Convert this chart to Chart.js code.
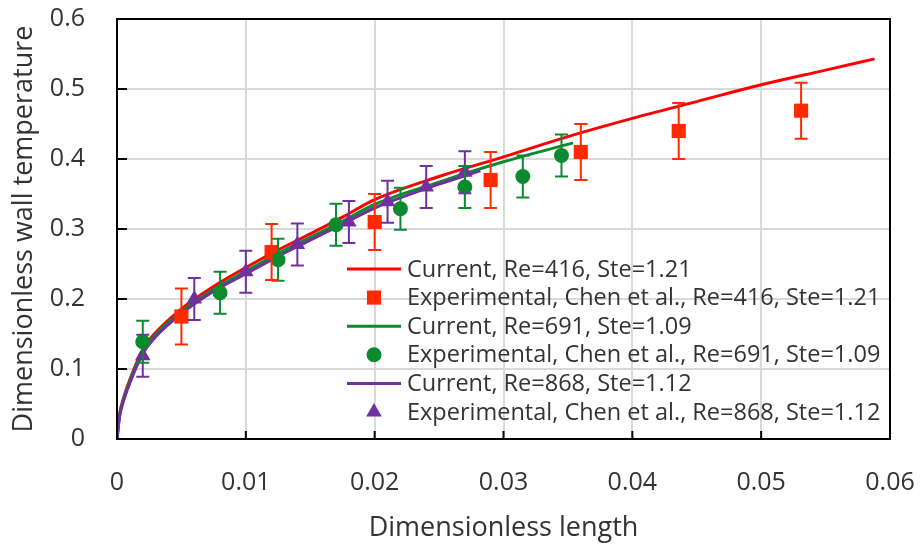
<!DOCTYPE html>
<html>
<head>
<meta charset="utf-8">
<script src="https://cdn.jsdelivr.net/npm/chart.js@4.4.1/dist/chart.umd.min.js"></script>
<style>
  html, body { margin: 0; padding: 0; background: #fff; }
  #wrap { width: 921px; height: 544px; }
</style>
</head>
<body>
<div id="wrap"><canvas id="chart"></canvas></div>
<script>
// ------------------ DATA ------------------
// simulated curves (Current)
const redLineX   = [0, 0.0002, 0.0005, 0.001, 0.002, 0.003, 0.005, 0.0075, 0.01, 0.0125, 0.015, 0.0175, 0.02, 0.025, 0.03, 0.035, 0.04, 0.045, 0.05, 0.055, 0.0588];
const redLineY   = [0, 0.035, 0.058, 0.085, 0.128, 0.152, 0.186, 0.218, 0.245, 0.27, 0.293, 0.317, 0.342, 0.375, 0.403, 0.432, 0.458, 0.482, 0.506, 0.527, 0.543];
const greenLineX = [0, 0.0002, 0.0005, 0.001, 0.002, 0.003, 0.005, 0.0075, 0.01, 0.0125, 0.015, 0.0175, 0.02, 0.025, 0.03, 0.0354];
const greenLineY = [0, 0.034, 0.056, 0.083, 0.125, 0.149, 0.182, 0.214, 0.24, 0.265, 0.288, 0.311, 0.335, 0.367, 0.396, 0.423];
const purpleLineX = [0, 0.0002, 0.0005, 0.001, 0.002, 0.003, 0.005, 0.0075, 0.01, 0.0125, 0.015, 0.0175, 0.02, 0.025, 0.0282];
const purpleLineY = [0, 0.032, 0.054, 0.08, 0.122, 0.146, 0.179, 0.211, 0.236, 0.261, 0.284, 0.307, 0.33, 0.364, 0.383];

// experimental points (Chen et al.) with error bar half-widths
const redExpX = [0.005, 0.012, 0.02, 0.029, 0.036, 0.0436, 0.0531];
const redExpY = [0.175, 0.267, 0.31, 0.37, 0.41, 0.44, 0.469];
const redExpErr = [0.04, 0.04, 0.04, 0.04, 0.04, 0.04, 0.04];
const greenExpX = [0.002, 0.008, 0.0125, 0.017, 0.022, 0.027, 0.0315, 0.0345];
const greenExpY = [0.139, 0.209, 0.256, 0.306, 0.329, 0.36, 0.375, 0.405];
const greenExpErr = [0.03, 0.03, 0.03, 0.03, 0.03, 0.03, 0.03, 0.03];
const purpleExpX = [0.002, 0.006, 0.01, 0.014, 0.018, 0.021, 0.024, 0.027];
const purpleExpY = [0.119, 0.2, 0.239, 0.278, 0.31, 0.339, 0.36, 0.381];
const purpleExpErr = [0.03, 0.03, 0.03, 0.03, 0.03, 0.03, 0.03, 0.03];

const legendLabels = [
    "Current, Re=416, Ste=1.21",
    "Experimental, Chen et al., Re=416, Ste=1.21",
    "Current, Re=691, Ste=1.09",
    "Experimental, Chen et al., Re=691, Ste=1.09",
    "Current, Re=868, Ste=1.12",
    "Experimental, Chen et al., Re=868, Ste=1.12"
];

// ------------------ STYLE ------------------
const RED = "#ff0000";
const RED_MARK = "#ff2a00";
const GREEN = "#0c8a30";
const PURPLE = "#7030a0";
const TEXT = "#333333";
const FONT = "'Open Sans', 'Noto Sans', sans-serif";

function pts(xs, ys) {
    return xs.map((x, i) => ({ x: x, y: ys[i] }));
}

function lineSet(label, xs, ys, color, order) {
    return {
        type: "line", label: label, data: pts(xs, ys),
        borderColor: color, borderWidth: 3, pointRadius: 0,
        fill: false, cubicInterpolationMode: "monotone", order: order
    };
}

function markSet(label, xs, ys, errs, color, style, radius, order) {
    return {
        type: "scatter", label: label, data: pts(xs, ys), errors: errs,
        backgroundColor: color, borderColor: color, borderWidth: 0,
        pointStyle: style, pointRadius: radius,
        errColor: color, order: order
    };
}

// ------------------ PLUGINS ------------------
// error bars, frame, inside tick marks and the legend
const extras = {
    id: "extras",
    afterDatasetsDraw(chart) {
        const { ctx, scales: { x, y } } = chart;
        ctx.save();
        ctx.lineWidth = 2;
        chart.data.datasets.forEach(ds => {
            if (!ds.errors) return;
            ctx.strokeStyle = ds.errColor;
            ds.data.forEach((p, i) => {
                const px = x.getPixelForValue(p.x);
                const top = y.getPixelForValue(p.y + ds.errors[i]);
                const bot = y.getPixelForValue(p.y - ds.errors[i]);
                ctx.beginPath();
                ctx.moveTo(px, top); ctx.lineTo(px, bot);
                ctx.moveTo(px - 6.5, top); ctx.lineTo(px + 6.5, top);
                ctx.moveTo(px - 6.5, bot); ctx.lineTo(px + 6.5, bot);
                ctx.stroke();
            });
        });
        ctx.restore();
    },
    afterDraw(chart) {
        const { ctx, chartArea: a, scales: { x, y } } = chart;
        ctx.save();
        // frame
        ctx.strokeStyle = "#000";
        ctx.lineWidth = 2;
        ctx.strokeRect(a.left, a.top, a.right - a.left, a.bottom - a.top);
        // tick marks pointing inward
        ctx.beginPath();
        y.ticks.forEach(t => {
            const py = y.getPixelForValue(t.value);
            ctx.moveTo(a.left, py); ctx.lineTo(a.left + 10, py);
        });
        x.ticks.forEach(t => {
            const px = x.getPixelForValue(t.value);
            ctx.moveTo(px, a.bottom); ctx.lineTo(px, a.bottom - 8);
        });
        ctx.stroke();

        // legend
        const items = chart.data.datasets.slice().sort((p, q) => p.legendIdx - q.legendIdx);
        const lx = 347, tx = 407, rowTop = 269, rowH = 28.6;
        ctx.font = "23.5px " + FONT;
        ctx.textBaseline = "middle";
        items.forEach((ds, i) => {
            const cy = rowTop + i * rowH;
            if (ds.type === "line") {
                ctx.strokeStyle = ds.borderColor;
                ctx.lineWidth = 3;
                ctx.beginPath();
                ctx.moveTo(lx, cy); ctx.lineTo(lx + 54, cy);
                ctx.stroke();
            } else {
                ctx.fillStyle = ds.backgroundColor;
                ctx.strokeStyle = ds.backgroundColor;
                Chart.helpers.drawPoint(ctx, {
                    pointStyle: ds.pointStyle, radius: ds.pointRadius,
                    borderWidth: 0
                }, lx + 27, cy);
            }
            ctx.fillStyle = TEXT;
            ctx.fillText(ds.label, tx, cy + 1);
        });
        ctx.restore();
    }
};

// ------------------ CHART ------------------
const datasets = [
    markSet(legendLabels[5], purpleExpX, purpleExpY, purpleExpErr, PURPLE, "triangle", 9, 1),
    markSet(legendLabels[3], greenExpX, greenExpY, greenExpErr, GREEN, "circle", 7.5, 2),
    markSet(legendLabels[1], redExpX, redExpY, redExpErr, RED_MARK, "rect", 10, 3),
    lineSet(legendLabels[4], purpleLineX, purpleLineY, PURPLE, 4),
    lineSet(legendLabels[2], greenLineX, greenLineY, GREEN, 5),
    lineSet(legendLabels[0], redLineX, redLineY, RED, 6)
];
datasets.forEach(ds => { ds.legendIdx = legendLabels.indexOf(ds.label); });

const ctx = document.getElementById("chart").getContext("2d");
new Chart(ctx, {
    data: { datasets: datasets },
    plugins: [extras],
    options: {
        responsive: true,
        maintainAspectRatio: false,
        animation: false,
        layout: { padding: { top: 19, right: 31, left: 0, bottom: 0 } },
        plugins: { legend: { display: false }, tooltip: { enabled: false } },
        scales: {
            x: {
                type: "linear", min: 0, max: 0.06,
                afterFit: s => { s.height = 105; s.paddingLeft = 0; s.paddingRight = 0; },
                ticks: { stepSize: 0.01, color: TEXT, padding: 29, font: { size: 25, family: FONT },
                         callback: v => Number(v.toFixed(2)).toString() },
                grid: { color: "#d9d9d9", lineWidth: 2, drawTicks: false },
                border: { display: false },
                title: { display: true, text: "Dimensionless length", color: TEXT,
                         font: { size: 27, family: FONT, lineHeight: 1 }, padding: { top: 0, bottom: 2 } }
            },
            y: {
                type: "linear", min: 0, max: 0.6,
                afterFit: s => { s.width = 117; s.paddingTop = 0; s.paddingBottom = 0; },
                ticks: { stepSize: 0.1, color: TEXT, padding: 32, font: { size: 25, family: FONT },
                         callback: v => Number(v.toFixed(1)).toString() },
                grid: { color: "#d9d9d9", lineWidth: 2, drawTicks: false },
                border: { display: false },
                title: { display: true, text: "Dimensionless wall temperature", color: TEXT,
                         font: { size: 27, family: FONT }, padding: { top: 8, bottom: 0 } }
            }
        }
    }
});
</script>
</body>
</html>
